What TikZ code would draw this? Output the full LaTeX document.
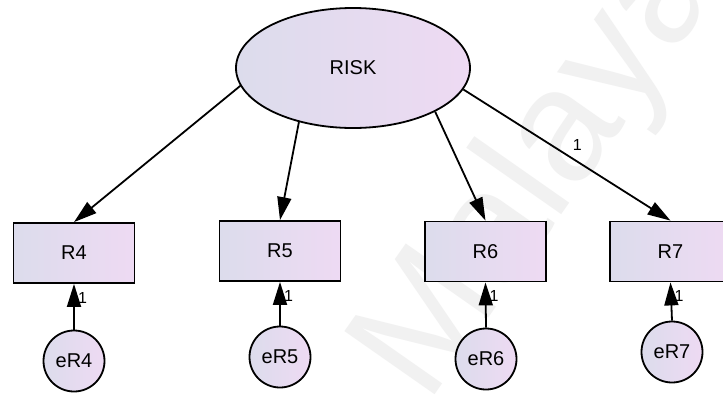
\documentclass[tikz,border=0pt]{standalone}
\usepackage{fontspec}
\setmainfont{Liberation Sans}
\usetikzlibrary{arrows.meta,shapes.geometric}
\definecolor{shadeL}{HTML}{DCDCEC}
\definecolor{shadeR}{HTML}{EEDAF3}
\definecolor{markgray}{HTML}{F1F1F1}
\begin{document}
\begin{tikzpicture}[x=1pt,y=-1pt,
  every node/.style={text=black},
  latent/.style={ellipse, draw, line width=1.8pt, left color=shadeL, right color=shadeR,
    inner sep=0pt, minimum width=234pt, minimum height=120pt,
    font=\fontsize{20}{20}\selectfont},
  observed/.style={rectangle, draw, line width=1.8pt, left color=shadeL, right color=shadeR,
    inner sep=0pt, minimum width=121pt, minimum height=60pt,
    font=\fontsize{20}{20}\selectfont},
  errvar/.style={circle, draw, line width=1.8pt, left color=shadeL, right color=shadeR,
    inner sep=0pt, minimum size=61pt, font=\fontsize{20}{20}\selectfont},
  regpath/.style={line width=1.8pt, -{Triangle[length=23pt,width=14pt]}},
  weight/.style={font=\fontsize{16}{16}\selectfont, inner sep=1pt}
]
\useasboundingbox (0,0) rectangle (723,394);
\fill[white] (0,0) rectangle (723,394);

% faint watermark
\node[rotate=55, anchor=south west, text=markgray, inner sep=0pt,
  font=\fontsize{160}{160}\selectfont] (mark) at (455,425) {Malaya};

% latent factor
\node[latent] (risk) at (353,68) {RISK};

% indicators
\node[observed] (r4) at (74,253) {R4};
\node[observed] (r5) at (280,251) {R5};
\node[observed] (r6) at (485.5,251.5) {R6};
\node[observed] (r7) at (670.5,251.5) {R7};

% error terms
\node[errvar] (e4) at (74,361) {eR4};
\node[errvar] (e5) at (280,357) {eR5};
\node[errvar] (e6) at (486,359) {eR6};
\node[errvar] (e7) at (672,352) {eR7};

% factor loadings
\draw[regpath] (risk.189) -- (r4.north);
\draw[regpath] (risk.225) -- (r5.north);
\draw[regpath] (risk.-28) -- (r6.north);
\draw[regpath] (risk.-11) -- node[weight, above, pos=0.55, yshift=9pt] (w7) {1} (r7.north);

% error paths
\foreach \e/\r in {e4/r4, e5/r5, e6/r6, e7/r7}{
  \draw[regpath] (\e.north) -- (\r.south);
  \node[weight, anchor=west] (w\e) at ([xshift=3pt,yshift=-14pt]\r.south) {1};
}
\end{tikzpicture}
\end{document}
